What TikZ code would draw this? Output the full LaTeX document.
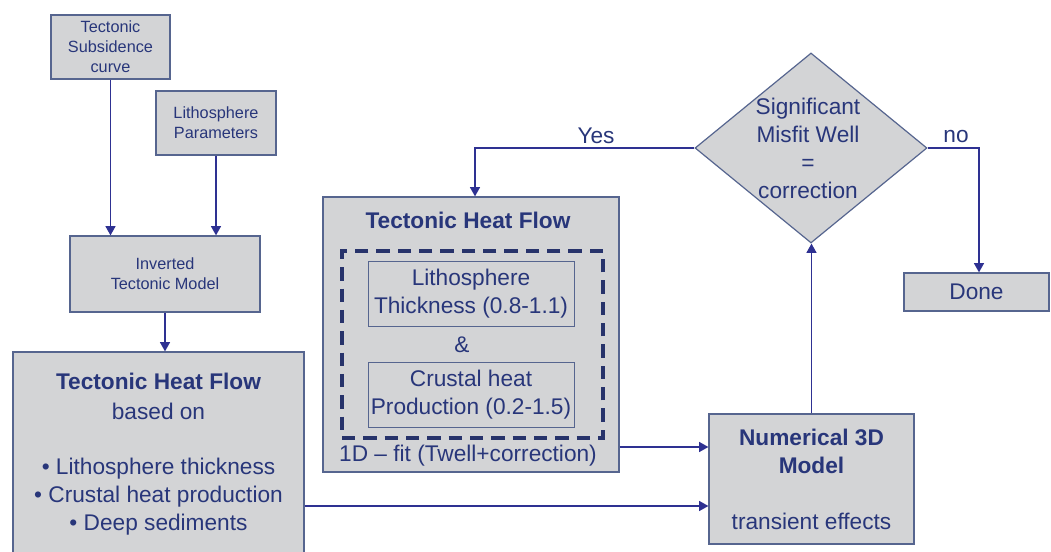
\documentclass[tikz,border=0pt]{standalone}
\usepackage{fontspec}
\setmainfont{Liberation Sans}
\usetikzlibrary{calc,shapes.geometric,arrows.meta}
\definecolor{sgray}{HTML}{D3D4D6}
\definecolor{sframe}{HTML}{56658F}
\definecolor{stext}{HTML}{28367A}
\definecolor{sarrow}{HTML}{2E3192}
\definecolor{sdash}{HTML}{27336B}

\begin{document}
\begin{tikzpicture}[x=0.75pt,y=-0.75pt,
    BOX/.style={rectangle, draw=sframe, fill=sgray, line width=0.9pt, text=stext, align=center, inner sep=0pt},
    SBOX/.style={BOX, font=\fontsize{12.2}{15}\selectfont},
    LBOX/.style={BOX, font=\fontsize{17}{21}\selectfont},
    TXT/.style={text=stext, align=center, inner sep=0pt, font=\fontsize{17}{21}\selectfont},
    DEC/.style={diamond, draw=sframe, fill=sgray, line width=0.9pt, inner sep=0pt},
    FIT/.style={rectangle, draw=sdash, line width=2.3pt, dash pattern=on 10pt off 6pt},
    ARR/.style={line width=1.2pt, draw=sarrow, ->, >={Stealth[length=7pt,width=7.5pt,inset=0pt]}}
    ]
    \useasboundingbox (0,0) rectangle (1051,552);

    % inputs
    \node[SBOX, minimum width=89.25pt, minimum height=48pt] (sub) at (110.5,47) {Tectonic\\Subsidence\\curve};
    \node[SBOX, minimum width=90pt, minimum height=48pt] (par) at (216,123) {Lithosphere\\Parameters};
    \node[SBOX, minimum width=142.5pt, minimum height=57pt] (inv) at (165,274) {Inverted\\Tectonic Model};
    \draw[ARR] (sub.south) -- (sub.south |- inv.north);
    \draw[ARR] (par.south) -- (par.south |- inv.north);

    \node[LBOX, minimum width=218.25pt, minimum height=153pt] (big) at (158.5,454)
        {\textbf{Tectonic Heat Flow}\\[1.5pt]based on\\[20pt]\textbullet{} Lithosphere thickness\\\textbullet{} Crustal heat production\\\textbullet{} Deep sediments};
    \draw[ARR] (inv.south) -- (inv.south |- big.north);

    % 1D fit
    \node[LBOX, minimum width=222pt, minimum height=206.25pt] (mid) at (471,334.5) {};
    \node[TXT, font=\fontsize{17}{21}\selectfont\bfseries] (midtitle) at (468,220) {Tectonic Heat Flow};
    \node[FIT, minimum width=195.75pt, minimum height=140.25pt] (fit) at (472.5,344.5) {};
    \node[LBOX, line width=0.6pt, minimum width=154.5pt, minimum height=48.75pt] (thick) at (471,293.5) {Lithosphere\\Thickness (0.8-1.1)};
    \node[TXT] (amp) at ($(thick.south)+(-9,18)$) {\&};
    \node[LBOX, line width=0.6pt, minimum width=154.5pt, minimum height=48.75pt] (prod) at (471,394.5) {Crustal heat\\Production (0.2-1.5)};
    \node[TXT] (fitlabel) at (468,456) {1D -- fit (Twell+correction)};

    % 3D model and check
    \node[LBOX, minimum width=153.75pt, minimum height=97.5pt] (num) at (811.5,479)
        {\textbf{Numerical 3D}\\\textbf{Model}\\[21pt]transient effects};
    \coordinate (n1) at ($(num.west)+(0,-32)$);
    \coordinate (n2) at ($(num.west)+(0,27)$);
    \draw[ARR] (mid.east |- n1) -- (n1);
    \draw[ARR] (big.east |- n2) -- (n2);

    \node[DEC, minimum width=174pt, minimum height=142.5pt] (misfit) at (811,148) {};
    \node[TXT] (misfittext) at (808,148.5) {Significant\\Misfit Well\\=\\correction};
    \draw[ARR] (num.north) -- (num.north |- misfit.south);

    \node[LBOX, minimum width=108.75pt, minimum height=28.5pt] (done) at (976.5,292) {Done};
    \draw[ARR] (misfit.west) -| ($(mid.north)+(4,0)$);
    \draw[ARR] (misfit.east) -| ($(done.north)+(2.5,0)$);
    \node[TXT] (yes) at (596,136) {Yes};
    \node[TXT] (no) at (956,137) {no};
\end{tikzpicture}
\end{document}
